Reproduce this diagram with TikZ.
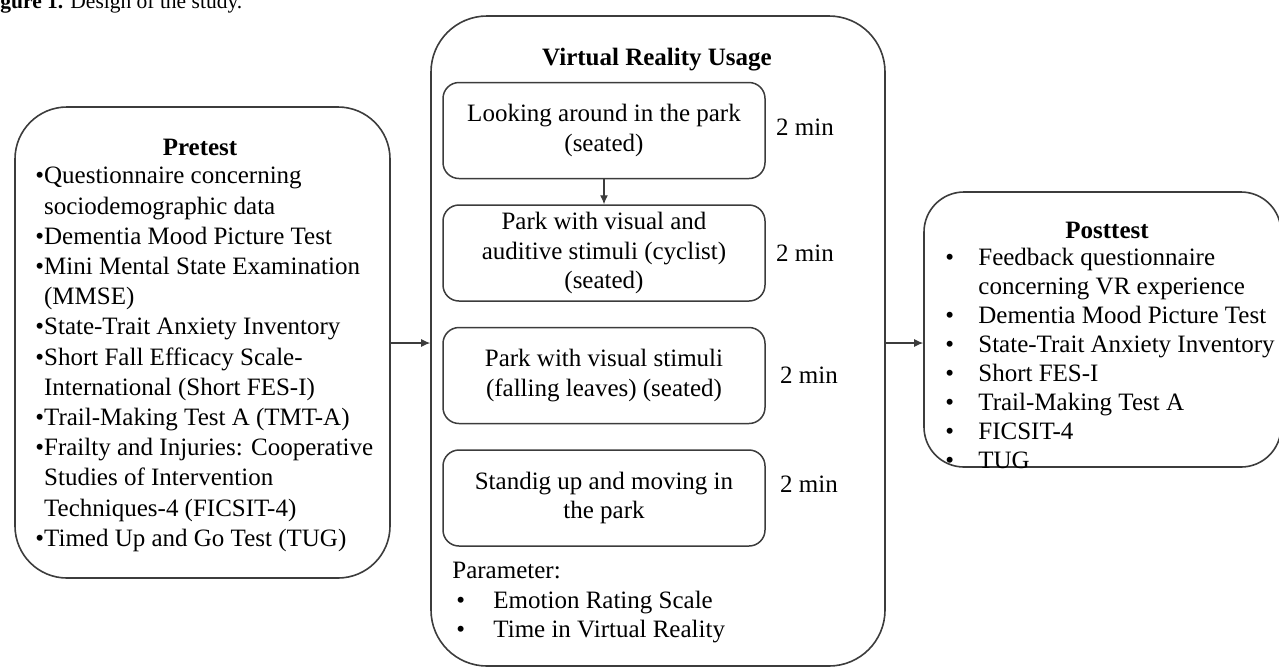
\documentclass[tikz,border=0pt]{standalone}
\usepackage{fontspec}
\setmainfont{Liberation Serif}
\usepackage{tikz}
\usetikzlibrary{arrows.meta,positioning}
\definecolor{FrameGray}{HTML}{3C3C3C}

\begin{document}
\begin{tikzpicture}[x=0.5pt,y=-0.5pt,node distance=12.5pt,>={Latex[length=4.5pt,width=4pt]},
  every node/.style={font=\fontsize{12.5pt}{14.75pt}\selectfont},
  phasebox/.style={draw=FrameGray,line width=0.8pt,inner sep=0pt},
  stagebox/.style={draw=FrameGray,line width=0.75pt,rounded corners=8pt,
    minimum width=161pt,minimum height=48pt,align=center,inner sep=2pt},
  headtext/.style={font=\bfseries\fontsize{12.5pt}{14.75pt}\selectfont,inner sep=0pt},
  listtext/.style={align=left,inner sep=0pt,anchor=north west},
  durtext/.style={inner sep=0pt,anchor=west},
  arr/.style={->,FrameGray,line width=0.6pt}]
  \useasboundingbox (0,0) rectangle (1279,666);

  % caption, cut at the page edge
  \node[anchor=base west,inner sep=0pt,font=\fontsize{10.75pt}{13pt}\selectfont] (caption) at (0,8)
    {\textbf{gure 1.} Design of the study.};

  % pretest
  \node[phasebox,minimum width=187.5pt,minimum height=235.5pt,rounded corners=26pt] (pretest) at (202.5,342.5) {};
  \node[headtext] (pretitle) at (200,147) {Pretest};
  \node[listtext,font=\fontsize{12.5pt}{15.1pt}\selectfont] (prelist) at (35,167)
    {\textbullet Questionnaire concerning\\
     \phantom{\textbullet}sociodemographic data\\
     \textbullet Dementia Mood Picture Test\\
     \textbullet Mini Mental State Examination\\
     \phantom{\textbullet}(MMSE)\\
     \textbullet State-Trait Anxiety Inventory\\
     \textbullet Short Fall Efficacy Scale-\\
     \phantom{\textbullet}International (Short FES-I)\\
     \textbullet Trail-Making Test A (TMT-A)\\
     \textbullet Frailty and Injuries: Cooperative\\
     \phantom{\textbullet}Studies of Intervention\\
     \phantom{\textbullet}Techniques-4 (FICSIT-4)\\
     \textbullet Timed Up and Go Test (TUG)};

  % virtual reality usage
  \node[phasebox,minimum width=227pt,minimum height=325pt,rounded corners=28pt] (vr) at (658,341) {};
  \node[headtext] (vrtitle) at (657,60) {Virtual Reality Usage};
  \node[stagebox] (park) at (604,130.5) {Looking around in the park\\(seated)};
  \node[stagebox,below=of park] (cyclist) {Park with visual and\\auditive stimuli (cyclist)\\(seated)};
  \node[stagebox,below=of cyclist] (leaves) {Park with visual stimuli\\(falling leaves) (seated)};
  \node[stagebox,below=of leaves] (moving) {Standig up and moving in\\the park};
  \node[durtext,right=5pt of park,yshift=1.5pt] (durpark) {2 min};
  \node[durtext,right=5pt of cyclist] (durcyclist) {2 min};
  \node[durtext,right=7pt of leaves] (durleaves) {2 min};
  \node[durtext,right=7pt of moving,yshift=7pt] (durmoving) {2 min};
  \node[listtext] (param) at (452,562)
    {Parameter:\\
     \hspace*{2pt}\makebox[18.5pt][l]{\textbullet}Emotion Rating Scale\\
     \hspace*{2pt}\makebox[18.5pt][l]{\textbullet}Time in Virtual Reality};

  % posttest
  \node[phasebox,minimum width=178.5pt,minimum height=137.5pt,rounded corners=20pt] (post) at (1102.5,329.5) {};
  \node[headtext] (posttitle) at (1107,230) {Posttest};
  \node[listtext,font=\fontsize{12.5pt}{14.45pt}\selectfont] (postlist) at (945,248)
    {\makebox[16.5pt][l]{\textbullet}Feedback questionnaire\\
     \makebox[16.5pt][l]{}concerning VR experience\\
     \makebox[16.5pt][l]{\textbullet}Dementia Mood Picture Test\\
     \makebox[16.5pt][l]{\textbullet}State-Trait Anxiety Inventory\\
     \makebox[16.5pt][l]{\textbullet}Short FES-I\\
     \makebox[16.5pt][l]{\textbullet}Trail-Making Test A\\
     \makebox[16.5pt][l]{\textbullet}FICSIT-4\\
     \makebox[16.5pt][l]{\textbullet}TUG};

  \draw[arr] (park) -- (cyclist);
  \draw[arr] (pretest.east |- 0,343) -- (vr.west |- 0,343);
  \draw[arr] (vr.east |- 0,343) -- (post.west |- 0,343);
\end{tikzpicture}
\end{document}
